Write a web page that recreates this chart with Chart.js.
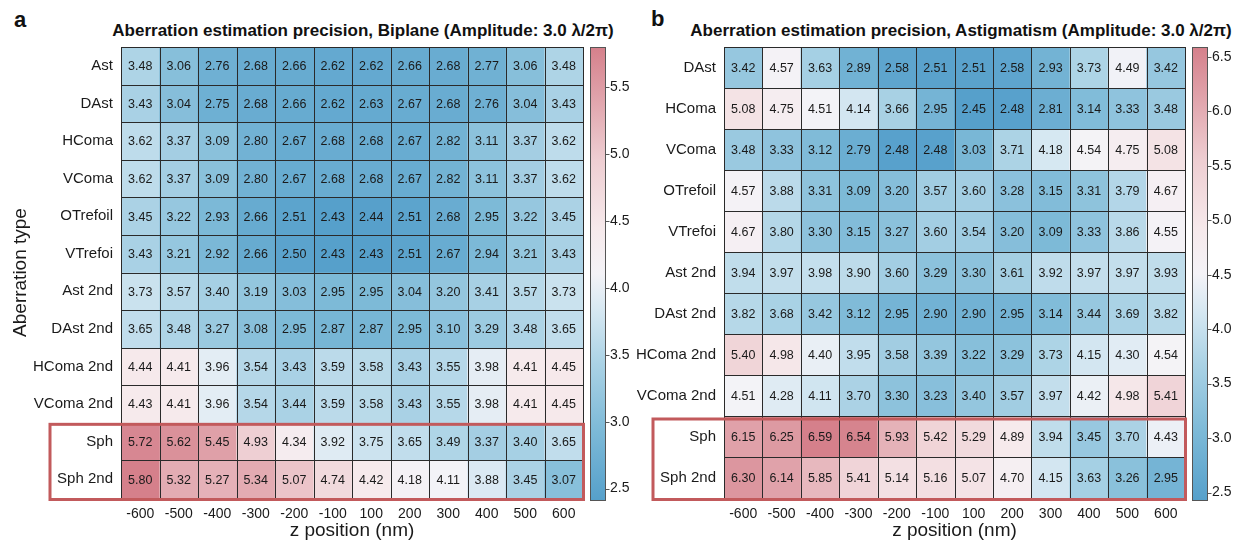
<!DOCTYPE html>
<html>
<head>
<meta charset="utf-8">
<script src="https://cdn.jsdelivr.net/npm/chart.js@4.4.0/dist/chart.umd.min.js"></script>
<style>
  body { margin: 0; background: #fff; width: 1236px; height: 542px; position: relative; overflow: hidden;
         font-family: "Liberation Sans", Arial, sans-serif; color: #111; }
  canvas { position: absolute; top: 0; }
  .letra { position: absolute; font-weight: bold; font-size: 22px; line-height: 22px; }
  .titulo { position: absolute; top: 22px; font-weight: bold; font-size: 17px; line-height: 17px;
            white-space: nowrap; transform: translateX(-50%); }
</style>
</head>
<body>
<div class="letra" style="left:14px;top:9px">a</div>
<div class="titulo" style="left:363px">Aberration estimation precision, Biplane (Amplitude: 3.0 λ/2π)</div>
<div class="letra" style="left:651px;top:8px">b</div>
<div class="titulo" style="left:961px">Aberration estimation precision, Astigmatism (Amplitude: 3.0 λ/2π)</div>
<canvas id="chartBiplane" width="634" height="542" style="left:0"></canvas>
<canvas id="chartAstig" width="602" height="542" style="left:634px"></canvas>
<script>
// ========================================
// Heatmaps de precision de estimacion de aberraciones
// ========================================

const posicionesZ = ['-600', '-500', '-400', '-300', '-200', '-100', '100', '200', '300', '400', '500', '600'];

// Panel a: Biplane
const filasBiplane = ['Ast', 'DAst', 'HComa', 'VComa', 'OTrefoil', 'VTrefoi', 'Ast 2nd', 'DAst 2nd',
  'HComa 2nd', 'VComa 2nd', 'Sph', 'Sph 2nd'];
const valoresBiplane = [
  [3.48, 3.06, 2.76, 2.68, 2.66, 2.62, 2.62, 2.66, 2.68, 2.77, 3.06, 3.48],
  [3.43, 3.04, 2.75, 2.68, 2.66, 2.62, 2.63, 2.67, 2.68, 2.76, 3.04, 3.43],
  [3.62, 3.37, 3.09, 2.80, 2.67, 2.68, 2.68, 2.67, 2.82, 3.11, 3.37, 3.62],
  [3.62, 3.37, 3.09, 2.80, 2.67, 2.68, 2.68, 2.67, 2.82, 3.11, 3.37, 3.62],
  [3.45, 3.22, 2.93, 2.66, 2.51, 2.43, 2.44, 2.51, 2.68, 2.95, 3.22, 3.45],
  [3.43, 3.21, 2.92, 2.66, 2.50, 2.43, 2.43, 2.51, 2.67, 2.94, 3.21, 3.43],
  [3.73, 3.57, 3.40, 3.19, 3.03, 2.95, 2.95, 3.04, 3.20, 3.41, 3.57, 3.73],
  [3.65, 3.48, 3.27, 3.08, 2.95, 2.87, 2.87, 2.95, 3.10, 3.29, 3.48, 3.65],
  [4.44, 4.41, 3.96, 3.54, 3.43, 3.59, 3.58, 3.43, 3.55, 3.98, 4.41, 4.45],
  [4.43, 4.41, 3.96, 3.54, 3.44, 3.59, 3.58, 3.43, 3.55, 3.98, 4.41, 4.45],
  [5.72, 5.62, 5.45, 4.93, 4.34, 3.92, 3.75, 3.65, 3.49, 3.37, 3.40, 3.65],
  [5.80, 5.32, 5.27, 5.34, 5.07, 4.74, 4.42, 4.18, 4.11, 3.88, 3.45, 3.07]
];
const ticksBarraBiplane = [2.5, 3.0, 3.5, 4.0, 4.5, 5.0, 5.5];

// Panel b: Astigmatism
const filasAstig = ['DAst', 'HComa', 'VComa', 'OTrefoil', 'VTrefoi', 'Ast 2nd', 'DAst 2nd',
  'HComa 2nd', 'VComa 2nd', 'Sph', 'Sph 2nd'];
const valoresAstig = [
  [3.42, 4.57, 3.63, 2.89, 2.58, 2.51, 2.51, 2.58, 2.93, 3.73, 4.49, 3.42],
  [5.08, 4.75, 4.51, 4.14, 3.66, 2.95, 2.45, 2.48, 2.81, 3.14, 3.33, 3.48],
  [3.48, 3.33, 3.12, 2.79, 2.48, 2.48, 3.03, 3.71, 4.18, 4.54, 4.75, 5.08],
  [4.57, 3.88, 3.31, 3.09, 3.20, 3.57, 3.60, 3.28, 3.15, 3.31, 3.79, 4.67],
  [4.67, 3.80, 3.30, 3.15, 3.27, 3.60, 3.54, 3.20, 3.09, 3.33, 3.86, 4.55],
  [3.94, 3.97, 3.98, 3.90, 3.60, 3.29, 3.30, 3.61, 3.92, 3.97, 3.97, 3.93],
  [3.82, 3.68, 3.42, 3.12, 2.95, 2.90, 2.90, 2.95, 3.14, 3.44, 3.69, 3.82],
  [5.40, 4.98, 4.40, 3.95, 3.58, 3.39, 3.22, 3.29, 3.73, 4.15, 4.30, 4.54],
  [4.51, 4.28, 4.11, 3.70, 3.30, 3.23, 3.40, 3.57, 3.97, 4.42, 4.98, 5.41],
  [6.15, 6.25, 6.59, 6.54, 5.93, 5.42, 5.29, 4.89, 3.94, 3.45, 3.70, 4.43],
  [6.30, 6.14, 5.85, 5.41, 5.14, 5.16, 5.07, 4.70, 4.15, 3.63, 3.26, 2.95]
];
const ticksBarraAstig = [2.5, 3.0, 3.5, 4.0, 4.5, 5.0, 5.5, 6.0, 6.5];

// Filas dentro del recuadro rojo
const filasResaltadas = ['Sph', 'Sph 2nd'];

// Mapa de color divergente azul - blanco - rojo
const paradasColor = [
  [0.00, [86, 160, 203]],
  [0.15, [124, 185, 215]],
  [0.30, [170, 210, 229]],
  [0.42, [215, 232, 242]],
  [0.50, [244, 243, 247]],
  [0.60, [246, 233, 235]],
  [0.75, [238, 206, 210]],
  [1.00, [213, 128, 139]]
];

function colorMapa(t) {
  t = Math.max(0, Math.min(1, t));
  for (let i = 1; i < paradasColor.length; i++) {
    const [t1, c1] = paradasColor[i];
    if (t <= t1) {
      const [t0, c0] = paradasColor[i - 1];
      const f = (t - t0) / (t1 - t0);
      const c = c0.map((v, k) => Math.round(v + (c1[k] - v) * f));
      return `rgb(${c[0]}, ${c[1]}, ${c[2]})`;
    }
  }
  const c = paradasColor[paradasColor.length - 1][1];
  return `rgb(${c[0]}, ${c[1]}, ${c[2]})`;
}

const FUENTE = '"Liberation Sans", Arial, sans-serif';
Chart.defaults.font.family = FUENTE;
Chart.defaults.color = '#1a1a1a';

// Lineas de celda y numeros
const pluginCeldas = {
  id: 'celdas',
  afterDatasetsDraw(chart) {
    const { ctx, chartArea, scales: { x, y } } = chart;
    const nCols = chart.data.labels.length;
    const nFilas = chart.data.datasets.length;
    ctx.save();
    ctx.strokeStyle = '#2a2a2a';
    ctx.lineWidth = 1;
    ctx.beginPath();
    for (let i = 0; i <= nCols; i++) {
      const px = Math.round(x.left + i * x.width / nCols) + 0.5;
      ctx.moveTo(px, chartArea.top);
      ctx.lineTo(px, chartArea.bottom);
    }
    for (let r = 0; r <= nFilas; r++) {
      const py = Math.round(y.getPixelForValue(r - 0.5)) + 0.5;
      ctx.moveTo(chartArea.left, py);
      ctx.lineTo(chartArea.right, py);
    }
    ctx.stroke();

    ctx.fillStyle = '#1a1a1a';
    ctx.font = '12.5px ' + FUENTE;
    ctx.textAlign = 'center';
    ctx.textBaseline = 'middle';
    chart.data.datasets.forEach((ds, d) => {
      chart.getDatasetMeta(d).data.forEach((el, i) => {
        ctx.fillText(ds.valores[i].toFixed(2), el.x, (el.y + el.base) / 2 + 1);
      });
    });
    ctx.restore();
  }
};

// Barra de color a la derecha
const pluginBarraColor = {
  id: 'barraColor',
  afterDraw(chart) {
    const { ctx, chartArea } = chart;
    const escala = chart.scales.barra;
    const x0 = chartArea.right + 7.5;
    const ancho = 15;
    const arriba = chartArea.top;
    const abajo = chartArea.bottom + 2;
    ctx.save();
    const grad = ctx.createLinearGradient(0, abajo, 0, arriba);
    paradasColor.forEach(([t, c]) => grad.addColorStop(t, `rgb(${c[0]}, ${c[1]}, ${c[2]})`));
    ctx.fillStyle = grad;
    ctx.fillRect(x0, arriba, ancho, abajo - arriba);
    ctx.strokeStyle = '#555';
    ctx.lineWidth = 1;
    ctx.strokeRect(x0, arriba + 0.5, ancho, abajo - arriba);
    ctx.beginPath();
    escala.ticks.forEach(t => {
      const py = Math.round(escala.getPixelForValue(t.value)) + 0.5;
      ctx.moveTo(x0 + ancho, py);
      ctx.lineTo(x0 + ancho + 4, py);
    });
    ctx.stroke();
    ctx.restore();
  }
};

// Recuadro rojo alrededor de Sph / Sph 2nd
const pluginRecuadro = {
  id: 'recuadro',
  afterDraw(chart, args, opts) {
    const { ctx, chartArea, scales: { y } } = chart;
    const filas = chart.data.datasets.map(ds => ds.label);
    const r = filas.indexOf(filasResaltadas[0]);
    if (r < 0) return;
    const arriba = y.getPixelForValue(r - 0.5) + opts.desfase;
    const abajo = chartArea.bottom + 1.5;
    ctx.save();
    ctx.strokeStyle = '#c25a5c';
    ctx.lineWidth = 3;
    ctx.strokeRect(opts.izquierda, arriba, chartArea.right + 0.5 - opts.izquierda, abajo - arriba);
    ctx.restore();
  }
};

function crearHeatmap(canvasId, filas, valores, ticksBarra, conf) {
  const todos = valores.flat();
  const vmin = Math.min(...todos);
  const vmax = Math.max(...todos);

  const datasets = filas.map((fila, r) => ({
    label: fila,
    data: valores[r].map(() => [r - 0.5, r + 0.5]),
    valores: valores[r],
    backgroundColor: valores[r].map(v => colorMapa((v - vmin) / (vmax - vmin))),
    borderWidth: 0,
    grouped: false,
    barPercentage: 1,
    categoryPercentage: 1
  }));

  return new Chart(document.getElementById(canvasId), {
    type: 'bar',
    data: { labels: posicionesZ, datasets },
    options: {
      responsive: false,
      animation: false,
      devicePixelRatio: 1,
      layout: { padding: { top: 47, left: 0, right: 0, bottom: 0 } },
      plugins: {
        legend: { display: false },
        tooltip: { enabled: false },
        recuadro: { izquierda: conf.izquierdaRecuadro, desfase: conf.desfaseRecuadro }
      },
      scales: {
        x: {
          type: 'category',
          grid: { display: false, drawTicks: false },
          border: { display: false },
          ticks: { font: { size: 14 }, padding: 8, maxRotation: 0, autoSkip: false, color: '#1a1a1a' },
          title: { display: true, text: 'z position (nm)', font: { size: 19 }, padding: { top: 0, bottom: 0 }, color: '#1a1a1a' },
          afterFit: s => { s.height = 44; }
        },
        y: {
          type: 'linear',
          reverse: true,
          min: -0.5,
          max: filas.length - 0.5,
          grid: { display: false, drawTicks: false },
          border: { display: false },
          afterBuildTicks: s => { s.ticks = filas.map((f, i) => ({ value: i })); },
          ticks: { font: { size: 15 }, padding: 8, autoSkip: false, color: '#1a1a1a', callback: v => filas[v] },
          title: { display: conf.tituloY, text: 'Aberration type', font: { size: 19 }, padding: { top: 9, bottom: 0 }, color: '#1a1a1a' },
          afterFit: s => { s.width = conf.anchoY; }
        },
        barra: {
          type: 'linear',
          position: 'right',
          min: vmin,
          max: vmax,
          grid: { display: false, drawTicks: false },
          border: { display: false },
          afterBuildTicks: s => { s.ticks = ticksBarra.map(v => ({ value: v })); },
          ticks: { font: { size: 14 }, padding: 27, color: '#1a1a1a', callback: v => v.toFixed(1) },
          afterFit: s => { s.width = conf.anchoBarra; }
        }
      }
    },
    plugins: [pluginCeldas, pluginBarraColor, pluginRecuadro]
  });
}

crearHeatmap('chartBiplane', filasBiplane, valoresBiplane, ticksBarraBiplane,
  { anchoY: 121, anchoBarra: 51, tituloY: true, izquierdaRecuadro: 50, desfaseRecuadro: 1.5 });
crearHeatmap('chartAstig', filasAstig, valoresAstig, ticksBarraAstig,
  { anchoY: 90, anchoBarra: 51, tituloY: false, izquierdaRecuadro: 19, desfaseRecuadro: 3 });
</script>
</body>
</html>
